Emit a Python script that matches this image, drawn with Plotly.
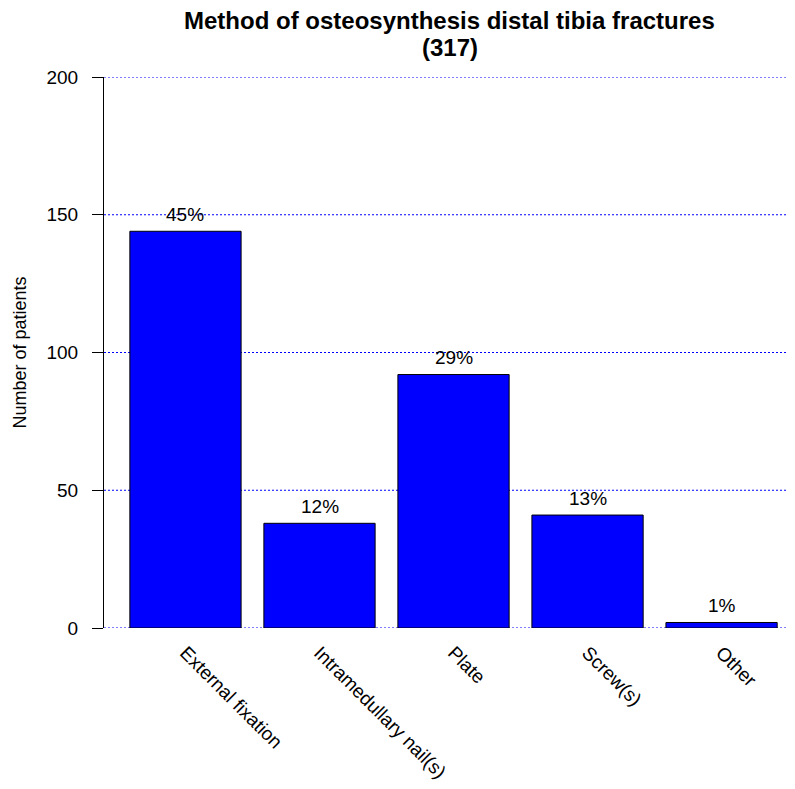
import plotly.graph_objects as go

categories = ["External fixation", "Intramedullary nail(s)", "Plate", "Screw(s)", "Other"]
counts = [144, 38, 92, 41, 2]
total = 317
y_ticks = [0, 50, 100, 150, 200]
title_lines = ["Method of osteosynthesis distal tibia fractures", f"({total})"]

pct = [f"{round(100 * c / total)}%" for c in counts]
font = "Liberation Sans, Arial, Helvetica, sans-serif"

fig = go.Figure()
fig.add_trace(go.Bar(
    x=list(range(len(categories))), y=counts, width=0.83,
    marker=dict(color="#0000ff", line=dict(color="black", width=1)),
    showlegend=False, hoverinfo="skip",
))
for i, (c, p) in enumerate(zip(counts, pct)):
    fig.add_annotation(x=i, y=c, text=p, showarrow=False, yshift=17,
                       yanchor="middle", font=dict(size=19, color="black", family=font))

# dotted horizontal reference lines at each tick
for t in y_ticks:
    fig.add_shape(type="line", xref="paper", x0=0, x1=1, yref="y", y0=t, y1=t,
                  line=dict(color="#0000ff", width=1, dash="2px,2px"), layer="below")

# y-axis title placed as a rotated annotation
fig.add_annotation(xref="paper", yref="paper", x=-0.1216, y=0.5,
                   text="Number of patients", textangle=-90, showarrow=False,
                   xanchor="center", yanchor="middle",
                   font=dict(size=18, color="black", family=font))

# chart title, two lines
for line, ypos in zip(title_lines, [1.1034, 1.0544]):
    fig.add_annotation(xref="paper", yref="paper", x=0.5, y=ypos,
                       text=f"<b>{line}</b>", showarrow=False,
                       xanchor="center", yanchor="middle",
                       font=dict(size=24, color="black", family=font))

fig.update_layout(
    width=787, height=781,
    margin=dict(l=96, r=0, t=69, b=161, autoexpand=False),
    plot_bgcolor="white", paper_bgcolor="white",
    font=dict(family=font, color="black", size=18),
    xaxis=dict(range=[-0.608, 4.548], tickmode="array",
               tickvals=list(range(len(categories))), ticktext=categories,
               tickangle=45, showgrid=False, showline=False, zeroline=False,
               ticks="", tickfont=dict(size=19), ticklabelstandoff=9,
               automargin=False),
    yaxis=dict(range=[0, 200], tickmode="array", tickvals=y_ticks,
               ticks="outside", ticklen=11, tickcolor="black", tickwidth=1,
               ticklabelstandoff=10,
               showline=True, linecolor="black", linewidth=1,
               showgrid=False, zeroline=False, tickfont=dict(size=19),
               automargin=False),
)
fig.write_html("out.html")
